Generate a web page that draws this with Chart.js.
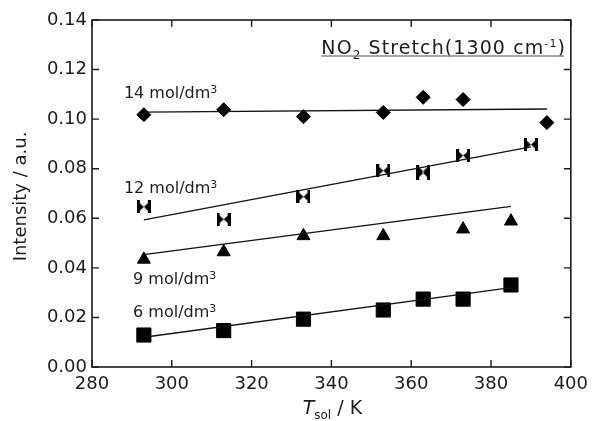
<!DOCTYPE html>
<html><head><meta charset="utf-8">
<script src="https://cdn.jsdelivr.net/npm/chart.js@4/dist/chart.umd.min.js"></script>
<style>html,body{margin:0;padding:0;background:#fff;}canvas{display:block;}</style>
</head><body>
<canvas id="c" width="595" height="421"></canvas>
<script>
// ---- data ----
const temps14 = [293, 313, 333, 353, 363, 373, 394];
const int14   = [0.1018, 0.1038, 0.1010, 0.1027, 0.1088, 0.1079, 0.0986];
const fit14T  = [293, 394];
const fit14I  = [0.1028, 0.1041];

const temps12 = [293, 313, 333, 353, 363, 363, 373, 390];
const int12   = [0.0646, 0.0596, 0.0687, 0.0792, 0.0790, 0.0782, 0.0853, 0.0897];
const fit12T  = [293, 390];
const fit12I  = [0.0594, 0.0888];

const temps9  = [293, 313, 333, 353, 373, 385];
const int9    = [0.0434, 0.0464, 0.0529, 0.0529, 0.0556, 0.0588];
const fit9T   = [293, 385];
const fit9I   = [0.0453, 0.0648];

const temps6  = [293, 313, 333, 353, 363, 373, 385];
const int6    = [0.0129, 0.0147, 0.0193, 0.0230, 0.0274, 0.0274, 0.0331];
const fit6T   = [293, 385];
const fit6I   = [0.0120, 0.0320];

const xTicks = [280, 300, 320, 340, 360, 380, 400];
const yTicks = [0.00, 0.02, 0.04, 0.06, 0.08, 0.10, 0.12, 0.14];

const seriesLabels = ['14 mol/dm', '12 mol/dm', '9 mol/dm', '6 mol/dm'];
// label anchors in data units (left edge T, vertical centre intensity)
const labelAnchorT = [288.0, 288.0, 290.3, 290.3];
const labelAnchorI = [0.1108, 0.0728, 0.0360, 0.0224];

const FONT = '"DejaVu Sans", sans-serif';
const INK = '#1c1c1c';

function pts(xs, ys) { return xs.map((x, i) => ({x: x, y: ys[i]})); }

// bow-tie marker (two triangles pointing to the centre)
function bowtie() {
  const w = 14, h = 13;
  const c = document.createElement('canvas');
  c.width = w; c.height = h;
  const g = c.getContext('2d');
  g.fillStyle = '#000';
  g.beginPath();
  g.moveTo(0, 0); g.lineTo(w / 2, h / 2); g.lineTo(0, h); g.closePath();
  g.moveTo(w, 0); g.lineTo(w / 2, h / 2); g.lineTo(w, h); g.closePath();
  g.fill();
  g.fillRect(0, 0, 3, h);
  g.fillRect(w - 3, 0, 3, h);
  return c;
}

function drawRich(ctx, x, y, parts, align) {
  // parts: [text, size, dy, italic]
  let total = 0;
  const widths = parts.map(p => {
    ctx.font = (p[3] ? 'italic ' : '') + p[1] + 'px ' + FONT;
    const w = ctx.measureText(p[0]).width;
    total += w;
    return w;
  });
  let cx = align === 'center' ? x - total / 2 : (align === 'right' ? x - total : x);
  const start = cx;
  ctx.textBaseline = 'alphabetic';
  ctx.textAlign = 'left';
  parts.forEach((p, i) => {
    ctx.font = (p[3] ? 'italic ' : '') + p[1] + 'px ' + FONT;
    ctx.fillText(p[0], cx, y + p[2]);
    cx += widths[i];
  });
  return [start, cx];
}

const framePlugin = {
  id: 'frame',
  afterDatasetsDraw(chart) {
    const ctx = chart.ctx;
    const a = chart.chartArea;
    const xs = chart.scales.x, ys = chart.scales.y;
    ctx.save();
    ctx.strokeStyle = INK;
    ctx.lineWidth = 1.6;
    ctx.strokeRect(a.left, a.top, a.right - a.left, a.bottom - a.top);
    ctx.lineWidth = 1.4;
    const L = 7;
    ctx.beginPath();
    xTicks.forEach(t => {
      const px = xs.getPixelForValue(t);
      ctx.moveTo(px, a.bottom); ctx.lineTo(px, a.bottom - L);
      ctx.moveTo(px, a.top); ctx.lineTo(px, a.top + L);
    });
    yTicks.forEach(t => {
      const py = ys.getPixelForValue(t);
      ctx.moveTo(a.left, py); ctx.lineTo(a.left + L, py);
      ctx.moveTo(a.right, py); ctx.lineTo(a.right - L, py);
    });
    ctx.stroke();

    ctx.fillStyle = INK;
    // series labels
    seriesLabels.forEach((s, i) => {
      const px = xs.getPixelForValue(labelAnchorT[i]);
      const py = ys.getPixelForValue(labelAnchorI[i]) + 6;
      drawRich(ctx, px, py, [[s, 16, 0], ['3', 11, -5]], 'left');
    });

    // in-plot title, right aligned
    const tx = xs.getPixelForValue(398.8);
    const ty = ys.getPixelForValue(0.1293) + 7;
    ctx.save();
    ctx.letterSpacing = '1.1px';
    const span = drawRich(ctx, tx, ty,
      [['NO', 19, 0], ['2', 12, 5], [' Stretch(1300 cm', 19, 0], ['-1', 11, -7], [')', 19, 0]], 'right');
    ctx.restore();
    ctx.strokeStyle = '#8a8a8a';
    ctx.lineWidth = 1.5;
    ctx.beginPath();
    ctx.moveTo(span[0], ty + 2.5); ctx.lineTo(span[1] - 2, ty + 2.5);
    ctx.stroke();

    // axis titles
    ctx.fillStyle = INK;
    drawRich(ctx, (a.left + a.right) / 2 + 1, 414,
      [['T', 19, 0, true], ['sol', 12, 5, false], [' / K', 19, 0, false]], 'center');
    ctx.save();
    ctx.translate(26, (a.top + a.bottom) / 2 + 3);
    ctx.rotate(-Math.PI / 2);
    drawRich(ctx, 0, 0, [['Intensity / a.u.', 18, 0]], 'center');
    ctx.restore();
    ctx.restore();
  }
};

const scatterDs = (xs, ys, style, r) => ({
  type: 'scatter', data: pts(xs, ys), showLine: false,
  pointStyle: style, pointRadius: r, pointHoverRadius: r,
  backgroundColor: '#000', borderColor: '#000', borderWidth: 1
});
const lineDs = (xs, ys) => ({
  type: 'line', data: pts(xs, ys), showLine: true, pointRadius: 0,
  borderColor: '#111', borderWidth: 1.3, fill: false, tension: 0
});

const bt = bowtie();
new Chart(document.getElementById('c'), {
  type: 'scatter',
  data: {
    datasets: [
      lineDs(fit14T, fit14I), lineDs(fit12T, fit12I), lineDs(fit9T, fit9I), lineDs(fit6T, fit6I),
      scatterDs(temps14, int14, 'rectRot', 7),
      scatterDs(temps12, int12, bt, 7),
      scatterDs(temps9, int9, 'triangle', 7.5),
      scatterDs(temps6, int6, 'rect', 10)
    ]
  },
  plugins: [framePlugin],
  options: {
    responsive: false,
    animation: false,
    devicePixelRatio: 1,
    layout: { padding: { left: 0, top: 20, right: 18, bottom: 0 } },
    plugins: { legend: { display: false }, tooltip: { enabled: false } },
    scales: {
      x: {
        type: 'linear', min: 280, max: 400,
        afterBuildTicks: s => { s.ticks = xTicks.map(v => ({value: v})); },
        afterFit: s => { s.height = 54; },
        grid: { display: false, drawTicks: false },
        border: { display: false },
        ticks: { padding: 7, color: INK, font: { family: FONT, size: 18 }, maxRotation: 0,
                 callback: v => String(v) }
      },
      y: {
        type: 'linear', min: 0, max: 0.14,
        afterBuildTicks: s => { s.ticks = yTicks.map(v => ({value: v})); },
        afterFit: s => { s.width = 92; },
        grid: { display: false, drawTicks: false },
        border: { display: false },
        ticks: { padding: 5, color: INK, font: { family: FONT, size: 18 },
                 callback: v => Number(v).toFixed(2) }
      }
    }
  }
});
</script>
</body></html>
